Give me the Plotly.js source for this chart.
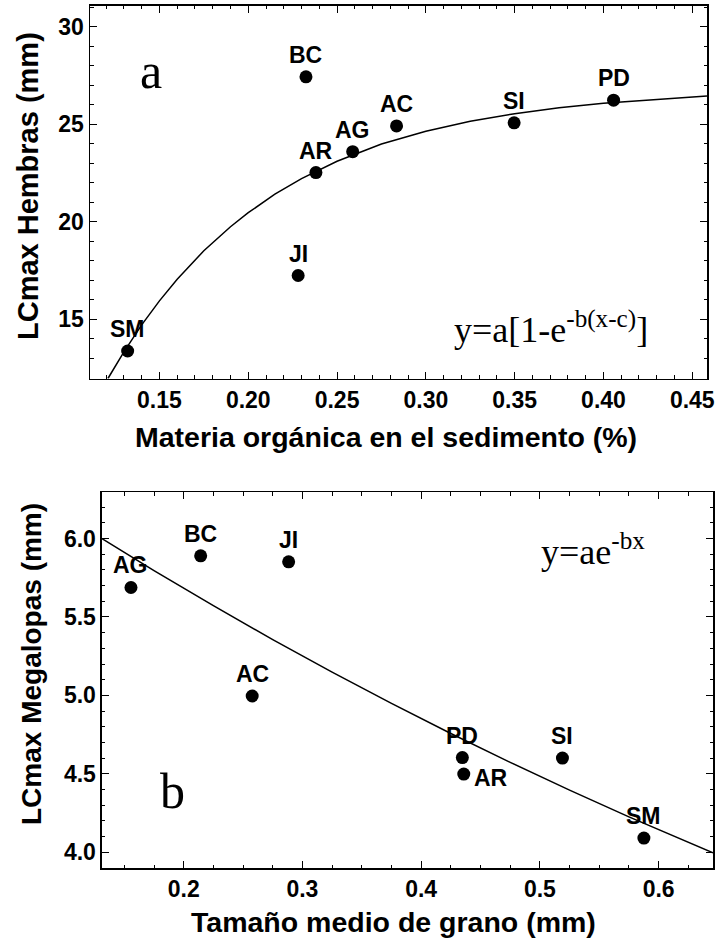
<!DOCTYPE html>
<html><head><meta charset="utf-8">
<script src="https://cdn.plot.ly/plotly-3.0.1.min.js"></script>
<style>html,body{margin:0;padding:0;background:#fff}</style>
</head><body><div id="chart" style="width:718px;height:943px"></div>
<script>
// Panel a: organic matter vs max female carapace length
const sitesA = ['SM','BC','JI','AR','AG','AC','SI','PD'];
const organicMatter = [0.1321,0.2325,0.2281,0.2381,0.2588,0.2835,0.3497,0.4057];
const femaleMaxCL = [13.37,27.43,17.24,22.52,23.59,24.91,25.07,26.23];
const fitAx = [0.121,0.13,0.14,0.15,0.16,0.175,0.19,0.20,0.215,0.23,0.25,0.275,0.30,0.325,0.35,0.375,0.40,0.425,0.4583];
const fitAy = [11.96,13.33,14.71,15.94,17.05,18.51,19.74,20.46,21.41,22.21,23.10,23.98,24.64,25.15,25.54,25.84,26.07,26.24,26.45];
const ticksA_x = [0.15,0.20,0.25,0.30,0.35,0.40,0.45];
const ticksA_y = [15,20,25,30];

// Panel b: grain size vs max megalopa carapace length
const sitesB = ['AG','BC','JI','AC','PD','AR','SI','SM'];
const grainSize = [0.1556,0.2143,0.2884,0.2577,0.4347,0.4359,0.5190,0.5876];
const megalopaMaxCL = [5.688,5.89,5.852,4.996,4.603,4.498,4.60,4.09];
const fitBx = [0.1312,0.175,0.225,0.275,0.325,0.375,0.425,0.475,0.525,0.575,0.6458];
const fitBy = [6.00,5.796,5.572,5.355,5.148,4.949,4.757,4.573,4.396,4.225,3.996];
const ticksB_x = [0.2,0.3,0.4,0.5,0.6];
const ticksB_y = [4.0,4.5,5.0,5.5,6.0];

const SANS = 'Liberation Sans, Arial, sans-serif';
const SERIF = 'Liberation Serif, Times New Roman, serif';

const traces = [
  {x: fitAx, y: fitAy, mode:'lines', line:{color:'black', width:1.5}, xaxis:'x', yaxis:'y', hoverinfo:'skip'},
  {x: organicMatter, y: femaleMaxCL, mode:'markers', marker:{color:'black', size:13}, xaxis:'x', yaxis:'y'},
  {x: fitBx, y: fitBy, mode:'lines', line:{color:'black', width:1.5}, xaxis:'x2', yaxis:'y2', hoverinfo:'skip'},
  {x: grainSize, y: megalopaMaxCL, mode:'markers', marker:{color:'black', size:13}, xaxis:'x2', yaxis:'y2'}
];

const labelFont = {family: SANS, size: 23, color:'black', weight: 700};
const annotations = [];
sitesA.forEach((s,i)=>annotations.push({x: organicMatter[i], y: femaleMaxCL[i], xref:'x', yref:'y', text:s, showarrow:false, font:labelFont, yshift:22}));
sitesB.forEach((s,i)=>{
  const right = (s === 'AR');
  annotations.push({x: grainSize[i], y: megalopaMaxCL[i], xref:'x2', yref:'y2', text:s, showarrow:false, font:labelFont,
    xshift: right ? 27 : 0, yshift: right ? -4 : 22});
});
annotations.push({xref:'x domain', yref:'y domain', x:0.0985, y:0.826, text:'a', showarrow:false, font:{family:SERIF, size:50, color:'black'}, xanchor:'center', yanchor:'middle'});
annotations.push({xref:'x domain', yref:'y domain', x:0.586, y:0.136, text:'y=a[1-e<sup>-b(x-c)</sup>]', showarrow:false, font:{family:SERIF, size:36, color:'black'}, xanchor:'left', yanchor:'middle'});
annotations.push({xref:'x2 domain', yref:'y2 domain', x:0.1146, y:0.205, text:'b', showarrow:false, font:{family:SERIF, size:50, color:'black'}, xanchor:'center', yanchor:'middle'});
annotations.push({xref:'x2 domain', yref:'y2 domain', x:0.715, y:0.848, text:'y=ae<sup>-bx</sup>', showarrow:false, font:{family:SERIF, size:36, color:'black'}, xanchor:'left', yanchor:'middle'});

// axis titles
const titleFont = {family: SANS, size: 28.5, color:'black', weight: 700};
annotations.push({xref:'paper', yref:'paper', x:0.5383, y:1-437/943, text:'Materia orgánica en el sedimento (%)', showarrow:false, font:titleFont, xanchor:'center', yanchor:'middle'});
annotations.push({xref:'paper', yref:'paper', x:28/718, y:1-186/943, text:'LCmax Hembras (mm)', showarrow:false, font:Object.assign({}, titleFont, {size:29}), textangle:-90, xanchor:'center', yanchor:'middle'});
annotations.push({xref:'paper', yref:'paper', x:0.5474, y:1-922/943, text:'Tamaño medio de grano (mm)', showarrow:false, font:titleFont, xanchor:'center', yanchor:'middle'});
annotations.push({xref:'paper', yref:'paper', x:31/718, y:1-664/943, text:'LCmax Megalopas (mm)', showarrow:false, font:Object.assign({}, titleFont, {size:28}), textangle:-90, xanchor:'center', yanchor:'middle'});

const tickFont = {family: SANS, size: 23, color:'black', weight: 700};
function ax(extra){
  return Object.assign({showgrid:false, zeroline:false, showline:true, linecolor:'black', linewidth:1.5, mirror:'ticks',
    ticks:'inside', ticklen:7, tickwidth:1, tickcolor:'black', tickfont:tickFont, automargin:false}, extra);
}

const layout = {
  width:718, height:943, margin:{l:0,r:0,t:0,b:0}, showlegend:false,
  paper_bgcolor:'white', plot_bgcolor:'white',
  xaxis: ax({domain:[0.12535,0.98468], range:[0.1109,0.4583], tickvals:ticksA_x, ticktext:ticksA_x.map(v=>v.toFixed(2)),
    minor:{dtick:0.01, tick0:0, ticks:'inside', ticklen:3.5, tickcolor:'black', tickwidth:1}, anchor:'y'}),
  yaxis: ax({domain:[0.59862,0.99364], range:[11.96,31.06], tickvals:ticksA_y, ticktext:ticksA_y.map(String),
    minor:{dtick:1, tick0:0, ticks:'inside', ticklen:3.5, tickcolor:'black', tickwidth:1}, anchor:'x'}),
  xaxis2: ax({domain:[0.14206,0.99304], range:[0.1312,0.6458], tickvals:ticksB_x, ticktext:ticksB_x.map(v=>v.toFixed(1)),
    minor:{dtick:0.025, tick0:0, ticks:'inside', ticklen:3.5, tickcolor:'black', tickwidth:1}, anchor:'y2'}),
  yaxis2: ax({domain:[0.07953,0.47826], range:[3.899,6.297], tickvals:ticksB_y, ticktext:ticksB_y.map(v=>v.toFixed(1)),
    minor:{dtick:0.1, tick0:0, ticks:'inside', ticklen:3.5, tickcolor:'black', tickwidth:1}, anchor:'x2'}),
  annotations: annotations
};

Plotly.newPlot('chart', traces, layout, {staticPlot:true, displayModeBar:false});
</script></body></html>
